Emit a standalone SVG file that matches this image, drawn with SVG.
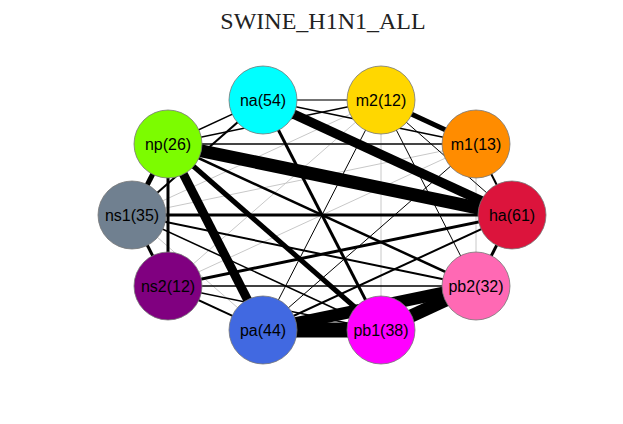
<svg xmlns="http://www.w3.org/2000/svg" width="623" height="424" viewBox="0 0 623 424">
<style>
.e{stroke:#000;fill:none}
.lg{stroke:#c8c8c8;stroke-width:1;fill:none}
.dg{stroke:#444;fill:none}
.n{stroke:#777;stroke-width:0.8}
.t{font-family:"Liberation Sans",Arial,sans-serif;font-size:16px;fill:#000;text-anchor:middle}
.title{font-family:"Liberation Serif","Times New Roman",serif;font-size:24px;fill:#222;text-anchor:middle}
</style>
<rect width="623" height="424" fill="#fff"/>
<text class="title" x="323" y="29">SWINE_H1N1_ALL</text>
<g id="edges">
<line class="lg" x1="476" y1="144" x2="476" y2="286"/>
<line class="lg" x1="381" y1="100" x2="381" y2="330"/>
<line class="lg" x1="132" y1="215" x2="476" y2="144"/>
<line class="lg" x1="132" y1="215" x2="381" y2="100"/>
<line class="lg" x1="168" y1="286" x2="476" y2="144"/>
<line class="lg" x1="168" y1="286" x2="381" y2="100"/>
<line class="lg" x1="132" y1="215" x2="263" y2="330"/>
<line class="dg" stroke-width="2" x1="168" y1="144" x2="476" y2="144"/>
<line class="dg" stroke-width="1.5" x1="263" y1="100" x2="381" y2="100"/>
<line class="e" stroke-width="1" x1="381" y1="100" x2="263" y2="330"/>
<line class="e" stroke-width="1" x1="381" y1="100" x2="476" y2="286"/>
<line class="e" stroke-width="1" x1="381" y1="100" x2="512" y2="215"/>
<line class="e" stroke-width="1" x1="476" y1="144" x2="263" y2="330"/>
<line class="e" stroke-width="1.5" x1="168" y1="144" x2="381" y2="100"/>
<line class="e" stroke-width="1.5" x1="168" y1="144" x2="263" y2="100"/>
<line class="e" stroke-width="1.5" x1="263" y1="100" x2="476" y2="144"/>
<line class="e" stroke-width="1.5" x1="168" y1="286" x2="476" y2="286"/>
<line class="e" stroke-width="1.5" x1="168" y1="286" x2="381" y2="330"/>
<line class="e" stroke-width="1.5" x1="132" y1="215" x2="381" y2="330"/>
<line class="e" stroke-width="2" x1="512" y1="215" x2="263" y2="330"/>
<line class="e" stroke-width="2" x1="512" y1="215" x2="476" y2="144"/>
<line class="e" stroke-width="2" x1="132" y1="215" x2="263" y2="100"/>
<line class="e" stroke-width="2" x1="132" y1="215" x2="476" y2="286"/>
<line class="e" stroke-width="2" x1="168" y1="286" x2="263" y2="330"/>
<line class="e" stroke-width="2.5" x1="168" y1="144" x2="476" y2="286"/>
<line class="e" stroke-width="3" x1="132" y1="215" x2="512" y2="215"/>
<line class="e" stroke-width="3" x1="168" y1="286" x2="512" y2="215"/>
<line class="e" stroke-width="3" x1="263" y1="100" x2="381" y2="330"/>
<line class="e" stroke-width="3" x1="512" y1="215" x2="476" y2="286"/>
<line class="e" stroke-width="3" x1="168" y1="144" x2="168" y2="286"/>
<line class="e" stroke-width="3" x1="132" y1="215" x2="168" y2="286"/>
<line class="e" stroke-width="5" x1="168" y1="144" x2="381" y2="330"/>
<line class="e" stroke-width="5" x1="168" y1="144" x2="132" y2="215"/>
<line class="e" stroke-width="5" x1="381" y1="100" x2="476" y2="144"/>
<line class="e" stroke-width="9" x1="168" y1="144" x2="263" y2="330"/>
<line class="e" stroke-width="9.5" x1="263" y1="100" x2="512" y2="215"/>
<line class="e" stroke-width="13" x1="168" y1="144" x2="512" y2="215"/>
<line class="e" stroke-width="12" x1="263" y1="330" x2="476" y2="286"/>
<line class="e" stroke-width="13" x1="381" y1="330" x2="476" y2="286"/>
<line class="e" stroke-width="15" x1="263" y1="330" x2="381" y2="330"/>
</g>
<g id="node-na"><circle class="n" cx="263" cy="100" r="34" fill="#00FFFF"/><text class="t" x="263" y="106">na(54)</text></g>
<g id="node-m2"><circle class="n" cx="381" cy="100" r="34" fill="#FFD700"/><text class="t" x="381" y="106">m2(12)</text></g>
<g id="node-m1"><circle class="n" cx="476" cy="144" r="34" fill="#FF8C00"/><text class="t" x="476" y="150">m1(13)</text></g>
<g id="node-ha"><circle class="n" cx="512" cy="215" r="34" fill="#DC143C"/><text class="t" x="512" y="221">ha(61)</text></g>
<g id="node-pb2"><circle class="n" cx="476" cy="286" r="34" fill="#FF69B4"/><text class="t" x="476" y="292">pb2(32)</text></g>
<g id="node-pb1"><circle class="n" cx="381" cy="330" r="34" fill="#FF00FF"/><text class="t" x="381" y="336">pb1(38)</text></g>
<g id="node-pa"><circle class="n" cx="263" cy="330" r="34" fill="#4169E1"/><text class="t" x="263" y="336">pa(44)</text></g>
<g id="node-ns2"><circle class="n" cx="168" cy="286" r="34" fill="#800080"/><text class="t" x="168" y="292">ns2(12)</text></g>
<g id="node-ns1"><circle class="n" cx="132" cy="215" r="34" fill="#708090"/><text class="t" x="132" y="221">ns1(35)</text></g>
<g id="node-np"><circle class="n" cx="168" cy="144" r="34" fill="#7CFC00"/><text class="t" x="168" y="150">np(26)</text></g>
</svg>
